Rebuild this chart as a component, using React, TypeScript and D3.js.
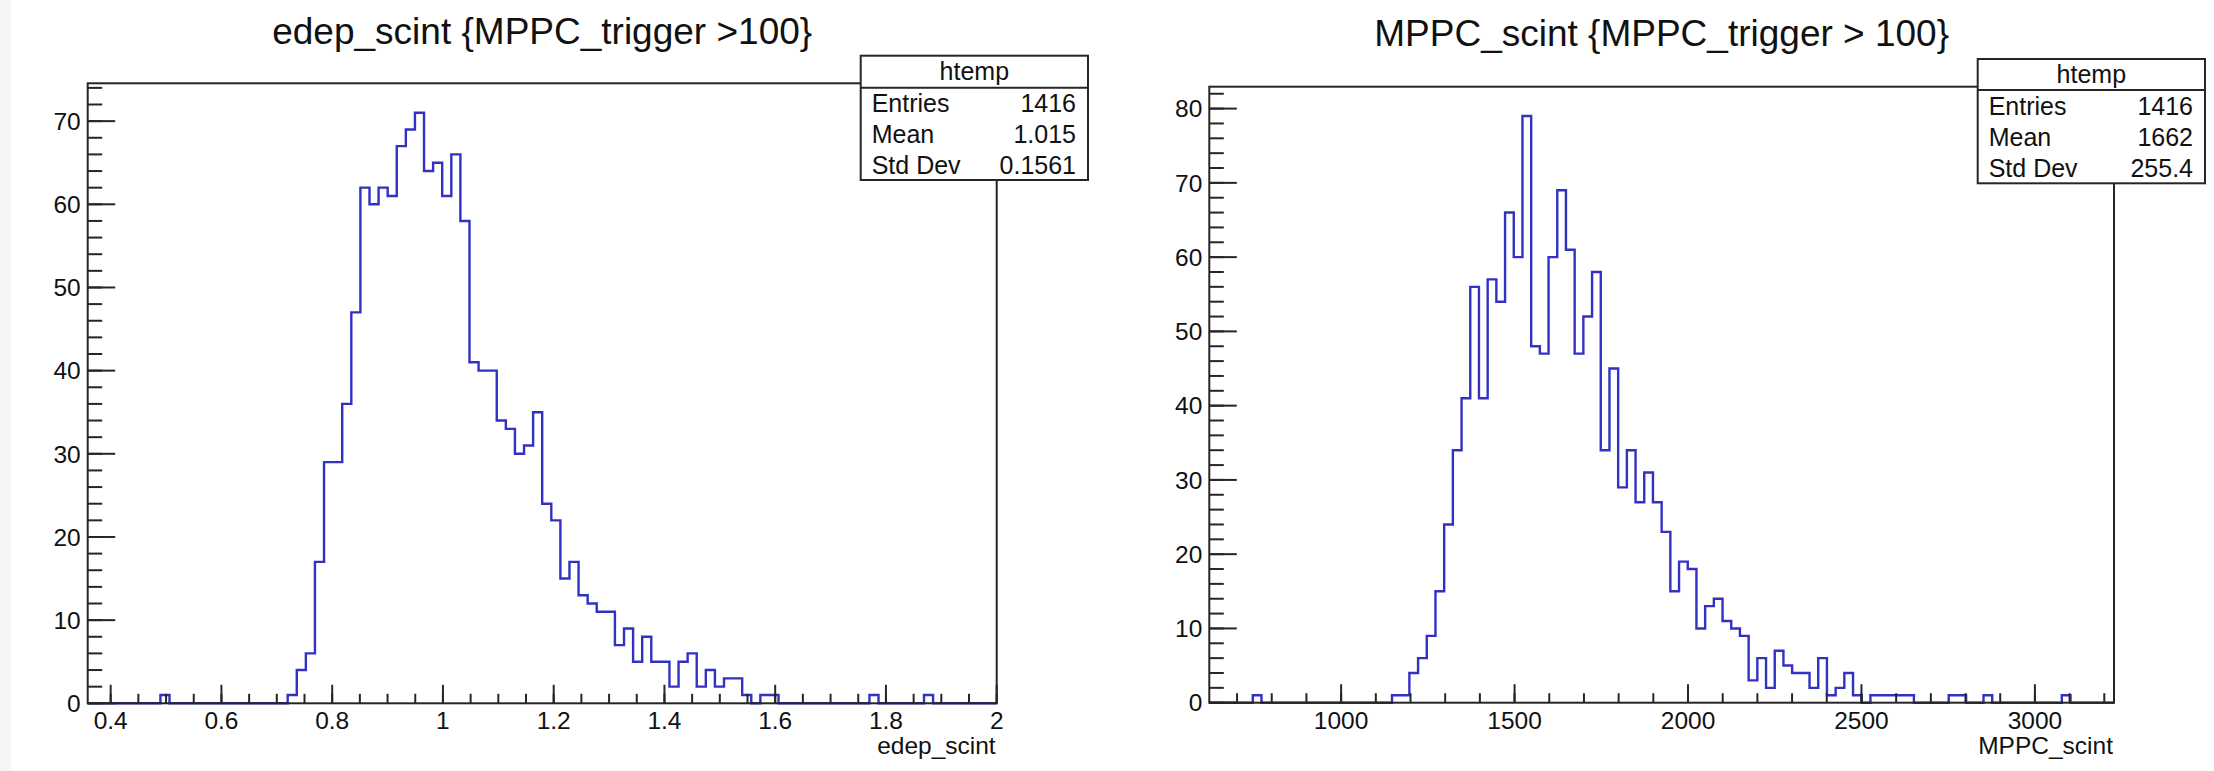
import React from 'react';
import * as d3 from 'd3';

// ---------------- DATA ----------------
// edep_scint histogram: 100 bins over [0.3585, 2.0]
const edepRange = [0.3585, 2.0];
const edepCounts = [
  0, 0, 0, 0, 0, 0, 0, 0, 1, 0,
  0, 0, 0, 0, 0, 0, 0, 0, 0, 0,
  0, 0, 1, 4, 6, 17, 29, 29, 36, 47,
  62, 60, 62, 61, 67, 69, 71, 64, 65, 61,
  66, 58, 41, 40, 40, 34, 33, 30, 31, 35,
  24, 22, 15, 17, 13, 12, 11, 11, 7, 9,
  5, 8, 5, 5, 2, 5, 6, 2, 4, 2,
  3, 3, 1, 0, 1, 1, 0, 0, 0, 0,
  0, 0, 0, 0, 0, 0, 1, 0, 0, 0,
  0, 0, 1, 0, 0, 0, 0, 0, 0, 0,
];
// MPPC_scint histogram: 104 bins over [620, 3228]
const mppcRange = [620, 3228];
const mppcCounts = [
  0, 0, 0, 0, 0, 1, 0, 0, 0, 0,
  0, 0, 0, 0, 0, 0, 0, 0, 0, 0,
  0, 1, 1, 4, 6, 9, 15, 24, 34, 41,
  56, 41, 57, 54, 66, 60, 79, 48, 47, 60,
  69, 61, 47, 52, 58, 34, 45, 29, 34, 27,
  31, 27, 23, 15, 19, 18, 10, 13, 14, 11,
  10, 9, 3, 6, 2, 7, 5, 4, 4, 2,
  6, 1, 2, 4, 1, 0, 1, 1, 1, 1,
  1, 0, 0, 0, 0, 1, 1, 0, 0, 1,
  0, 0, 0, 0, 0, 0, 0, 0, 1, 0,
  0, 0, 0, 0,
];

const edepXTicks = [0.4, 0.6, 0.8, 1, 1.2, 1.4, 1.6, 1.8, 2];
const edepXTickLabels = ['0.4', '0.6', '0.8', '1', '1.2', '1.4', '1.6', '1.8', '2'];
const edepXMinorStep = 0.05;
const edepYTicks = [0, 10, 20, 30, 40, 50, 60, 70];
const edepYMax = 74.55;

const mppcXTicks = [1000, 1500, 2000, 2500, 3000];
const mppcXTickLabels = ['1000', '1500', '2000', '2500', '3000'];
const mppcXMinorStep = 100;
const mppcYTicks = [0, 10, 20, 30, 40, 50, 60, 70, 80];
const mppcYMax = 82.95;

const edepStatLabels = ['Entries', 'Mean', 'Std Dev'];
const edepStatValues = ['1416', '1.015', '0.1561'];
const mppcStatLabels = ['Entries', 'Mean', 'Std Dev'];
const mppcStatValues = ['1416', '1662', '255.4'];

const edepTitle = 'edep_scint {MPPC_trigger >100}';
const mppcTitle = 'MPPC_scint {MPPC_trigger > 100}';
const edepXLabel = 'edep_scint';
const mppcXLabel = 'MPPC_scint';
const statName = 'htemp';

// ---------------- STYLE ----------------
const FONT = '"Liberation Sans", Arial, Helvetica, sans-serif';
const HIST_COLOR = '#3131c4';
const AXIS_COLOR = '#262626';
const TEXT_COLOR = '#111';

type PanelCfg = {
  counts: number[];
  range: number[];
  yMax: number;
  xTicks: number[];
  xTickLabels: string[];
  xMinorStep: number;
  yTicks: number[];
  title: string;
  xLabel: string;
  statLabels: string[];
  statValues: string[];
  frame: { x0: number; x1: number; y0: number; y1: number };
  titleY: number;
  stat: { x: number; y: number; w: number; h: number; hh: number };
};

function Panel({ cfg }: { cfg: PanelCfg }) {
  const f = cfg.frame;
  const xs = d3.scaleLinear().domain(cfg.range).range([f.x0, f.x1]);
  const ys = d3.scaleLinear().domain([0, cfg.yMax]).range([f.y1, f.y0]);
  const n = cfg.counts.length;
  const bw = (cfg.range[1] - cfg.range[0]) / n;
  const pts: [number, number][] = [[xs(cfg.range[0]), ys(0)]];
  cfg.counts.forEach((c, i) => {
    pts.push([xs(cfg.range[0] + i * bw), ys(c)]);
    pts.push([xs(cfg.range[0] + (i + 1) * bw), ys(c)]);
  });
  pts.push([xs(cfg.range[1]), ys(0)]);
  const path = d3.line()(pts) || '';

  const first = cfg.xTicks[0];
  const xMinor: number[] = [];
  for (let v = first; v >= cfg.range[0] - 1e-9; v -= cfg.xMinorStep) xMinor.push(v);
  for (let v = first + cfg.xMinorStep; v <= cfg.range[1] + 1e-9; v += cfg.xMinorStep) xMinor.push(v);
  const yMinor = d3.range(0, cfg.yMax, 2);

  const xMajLen = 18.5;
  const xMinLen = 9.5;
  const yMajLen = 27.5;
  const yMinLen = 14.5;
  const fs = 24.5;

  const s = cfg.stat;
  const rowH = (s.h - s.hh) / 3;
  const statFs = 25;

  return (
    <g>
      <path d={path} fill="none" stroke={HIST_COLOR} strokeWidth={2.4} />
      <rect x={f.x0} y={f.y0} width={f.x1 - f.x0} height={f.y1 - f.y0} fill="none" stroke={AXIS_COLOR} strokeWidth={2} />
      {xMinor.map((v, i) => (
        <line key={'xm' + i} x1={xs(v)} x2={xs(v)} y1={f.y1} y2={f.y1 - xMinLen} stroke={AXIS_COLOR} strokeWidth={2} />
      ))}
      {cfg.xTicks.map((v, i) => (
        <line key={'xM' + i} x1={xs(v)} x2={xs(v)} y1={f.y1} y2={f.y1 - xMajLen} stroke={AXIS_COLOR} strokeWidth={2} />
      ))}
      {cfg.xTicks.map((v, i) => (
        <text key={'xl' + i} x={xs(v)} y={729} textAnchor="middle" fontSize={fs} fontFamily={FONT} fill={TEXT_COLOR}>
          {cfg.xTickLabels[i]}
        </text>
      ))}
      {yMinor.map((v, i) => (
        <line key={'ym' + i} x1={f.x0} x2={f.x0 + yMinLen} y1={ys(v)} y2={ys(v)} stroke={AXIS_COLOR} strokeWidth={2} />
      ))}
      {cfg.yTicks.map((v, i) => (
        <line key={'yM' + i} x1={f.x0} x2={f.x0 + yMajLen} y1={ys(v)} y2={ys(v)} stroke={AXIS_COLOR} strokeWidth={2} />
      ))}
      {cfg.yTicks.map((v, i) => (
        <text key={'yl' + i} x={f.x0 - 7} y={ys(v) + fs * 0.358} textAnchor="end" fontSize={fs} fontFamily={FONT} fill={TEXT_COLOR}>
          {String(v)}
        </text>
      ))}
      <text x={f.x1 - 1} y={754} textAnchor="end" fontSize={fs} fontFamily={FONT} fill={TEXT_COLOR}>
        {cfg.xLabel}
      </text>
      <text x={(f.x0 + f.x1) / 2} y={cfg.titleY} textAnchor="middle" fontSize={37} fontFamily={FONT} fill={TEXT_COLOR}>
        {cfg.title}
      </text>
      <rect x={s.x} y={s.y} width={s.w} height={s.h} fill="#fff" stroke={AXIS_COLOR} strokeWidth={2} />
      <line x1={s.x} x2={s.x + s.w} y1={s.y + s.hh} y2={s.y + s.hh} stroke={AXIS_COLOR} strokeWidth={2} />
      <text x={s.x + s.w / 2} y={s.y + s.hh * 0.76} textAnchor="middle" fontSize={statFs} fontFamily={FONT} fill={TEXT_COLOR}>
        {statName}
      </text>
      {cfg.statLabels.map((l, i) => (
        <g key={'st' + i}>
          <text x={s.x + 11} y={s.y + s.hh + rowH * (i + 0.8)} fontSize={statFs} fontFamily={FONT} fill={TEXT_COLOR}>
            {l}
          </text>
          <text x={s.x + s.w - 12} y={s.y + s.hh + rowH * (i + 0.8)} textAnchor="end" fontSize={statFs} fontFamily={FONT} fill={TEXT_COLOR}>
            {cfg.statValues[i]}
          </text>
        </g>
      ))}
    </g>
  );
}

const leftCfg: PanelCfg = {
  counts: edepCounts,
  range: edepRange,
  yMax: edepYMax,
  xTicks: edepXTicks,
  xTickLabels: edepXTickLabels,
  xMinorStep: edepXMinorStep,
  yTicks: edepYTicks,
  title: edepTitle,
  xLabel: edepXLabel,
  statLabels: edepStatLabels,
  statValues: edepStatValues,
  frame: { x0: 87.7, x1: 996.7, y0: 83.3, y1: 703.3 },
  titleY: 44,
  stat: { x: 860.7, y: 55.7, w: 227.3, h: 124.3, hh: 32 },
};

const rightCfg: PanelCfg = {
  counts: mppcCounts,
  range: mppcRange,
  yMax: mppcYMax,
  xTicks: mppcXTicks,
  xTickLabels: mppcXTickLabels,
  xMinorStep: mppcXMinorStep,
  yTicks: mppcYTicks,
  title: mppcTitle,
  xLabel: mppcXLabel,
  statLabels: mppcStatLabels,
  statValues: mppcStatValues,
  frame: { x0: 1209.3, x1: 2114, y0: 86.7, y1: 702.7 },
  titleY: 46,
  stat: { x: 1977.7, y: 59, w: 227.3, h: 124.3, hh: 31 },
};

export default function App() {
  return (
    <svg
      width={2214}
      height={771}
      style={{ position: 'absolute', left: 0, top: 0, display: 'block' }}
    >
      <rect x={0} y={0} width={2214} height={771} fill="#fff" />
      <rect x={0} y={0} width={11} height={771} fill="#f6f6f6" />
      <Panel cfg={leftCfg} />
      <Panel cfg={rightCfg} />
    </svg>
  );
}
